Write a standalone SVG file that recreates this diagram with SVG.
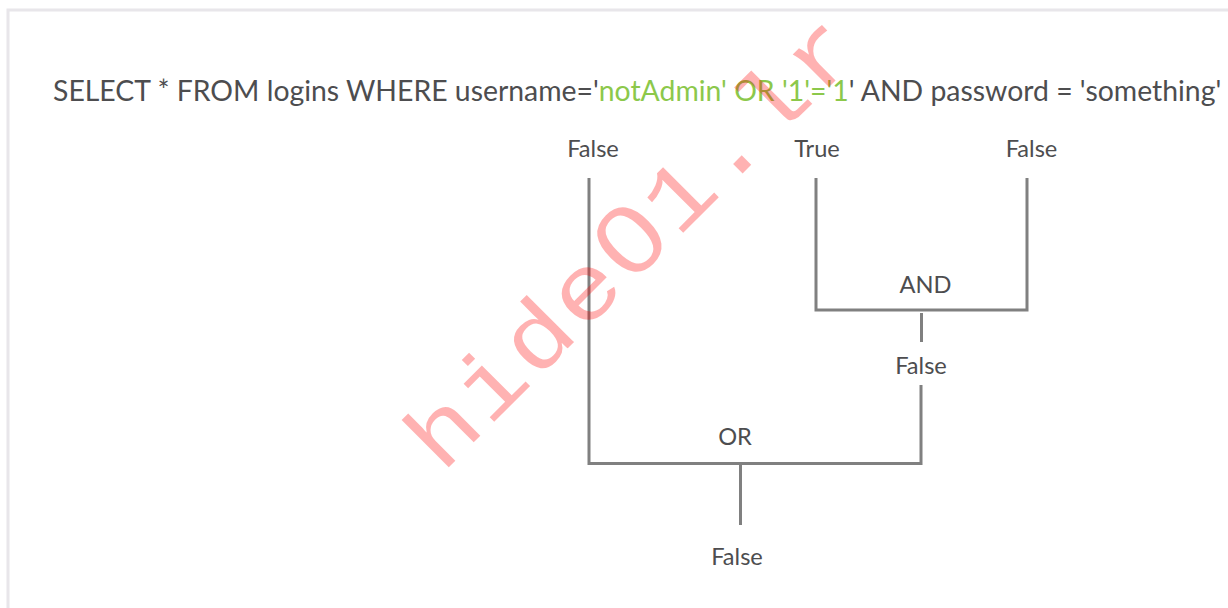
<svg xmlns="http://www.w3.org/2000/svg" width="1228" height="608" viewBox="0 0 1228 608">
<style>
.t{font-family:Lato,"Liberation Sans",sans-serif;fill:#4d4d4f}
.q{font-size:28.380px}
.l{font-size:23.600px;text-anchor:middle}
.g{fill:#8cc84b}
.c{fill:none;stroke:#808080;stroke-width:3}
.w{font-family:"Liberation Mono",monospace;font-size:92px;letter-spacing:2.500px;fill:#ff0000;fill-opacity:.3}
.z{font-family:"Liberation Sans",sans-serif;font-size:96px}
</style>
<rect width="1228" height="608" fill="#fff"/>
<path d="M8 608V10H1228" fill="none" stroke="#e8e6ea" stroke-width="3"/>
<g id="query"><text class="t q" x="53" y="100.500">SELECT * FROM logins WHERE username='<tspan class="g">notAdmin' OR '1'='1</tspan>' AND password = 'something'</text></g>
<g id="connectors">
<path class="c" d="M589 178V463.500H921V385"/>
<path class="c" d="M816 178V310H1027V178"/>
<path class="c" d="M921.500 313V342"/>
<path class="c" d="M740.500 465V525"/>
</g>
<g id="n1"><text class="t l" x="593" y="157">False</text></g>
<g id="n2"><text class="t l" x="817" y="157">True</text></g>
<g id="n3"><text class="t l" x="1031.500" y="157">False</text></g>
<g id="n4"><text class="t l" x="925.500" y="293">AND</text></g>
<g id="n5"><text class="t l" x="921" y="374">False</text></g>
<g id="n6"><text class="t l" x="735" y="445">OR</text></g>
<g id="n7"><text class="t l" x="737" y="565">False</text></g>
<text class="w" transform="translate(442 474) rotate(-45) scale(1.150 1)">hide<tspan class="z" dx="2">0</tspan><tspan dx="1">1.lr</tspan></text>
</svg>
